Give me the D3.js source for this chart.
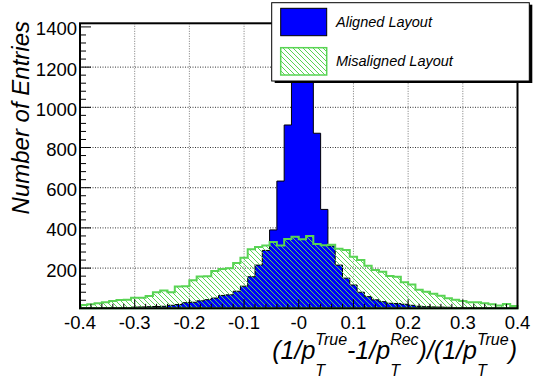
<!DOCTYPE html>
<html lang="en">
<head>
<meta charset="utf-8">
<title>pT resolution</title>
<script src="https://cdnjs.cloudflare.com/ajax/libs/d3/7.8.5/d3.min.js"></script>
<style>
    body
    {
        margin: 0;
        background-color: white;
    }
    svg
    {
        display: block;
        font-family: "Liberation Sans", Arial, Helvetica, sans-serif;
    }
</style>
</head>
<body>
<div id="chart_div"></div>
<script>
"use strict";
// 60 bins from -0.4 to 0.4
var binLow = -0.4;
var binHigh = 0.4;
var aligned = [1, 2, 1, 3, 3, 4, 4, 6, 7, 8,
               9, 10, 15, 19, 28, 30, 37, 43, 51, 64,
               67, 85, 110, 157, 215, 288, 390, 633, 912, 1210,
               1350, 1260, 871, 492, 310, 215, 150, 116, 80, 58,
               42, 33, 25, 24, 20, 15, 10, 8, 7, 6,
               5, 4, 3, 3, 2, 2, 1, 1, 1, 0];
var misaligned = [16, 20, 25, 30, 36, 41, 42, 53, 52, 61,
                  80, 88, 80, 108, 110, 140, 158, 160, 186, 196,
                  199, 226, 252, 294, 305, 312, 330, 312, 345, 356,
                  343, 360, 320, 314, 316, 296, 290, 257, 240, 212,
                  191, 182, 161, 157, 130, 118, 92, 82, 73, 63,
                  50, 42, 36, 30, 30, 25, 20, 14, 22, 12];
var seriesNames = ["Aligned Layout", "Misaligned Layout"];
var xTicks = [-0.4, -0.3, -0.2, -0.1, 0, 0.1, 0.2, 0.3, 0.4];
var xTickLabels = ["-0.4", "-0.3", "-0.2", "-0.1", "-0", "0.1", "0.2", "0.3", "0.4"];
var yTicks = [200, 400, 600, 800, 1000, 1200, 1400];
var yMax = 1418;

var svg_width = 534;
var svg_height = 378;
var frameL = 80, frameR = 517.5, frameT = 23.3, frameB = 308.3;
var green = "#59d454";

var svg = d3.select("#chart_div")
    .append("svg")
    .attr("width", svg_width)
    .attr("height", svg_height);

var xscale = d3.scaleLinear().domain([binLow, binHigh]).range([frameL, frameR]);
var yscale = d3.scaleLinear().domain([0, yMax]).range([frameB, frameT]);

// hatch pattern (ROOT style 3005-like)
var defs = svg.append("defs");
var pat = defs.append("pattern")
    .attr("id", "hatch")
    .attr("patternUnits", "userSpaceOnUse")
    .attr("width", 5)
    .attr("height", 5);
pat.append("path")
    .attr("d", "M0,0L5,5M-1,4L1,6M4,-1L6,1")
    .attr("stroke", green)
    .attr("stroke-width", 1)
    .attr("fill", "none");

// grid
svg.append("g").selectAll("line")
    .data(yTicks.slice(0, -1))
    .enter().append("line")
    .attr("x1", frameL).attr("x2", frameR)
    .attr("y1", function(d) { return yscale(d); })
    .attr("y2", function(d) { return yscale(d); })
    .attr("stroke", "#333")
    .attr("stroke-dasharray", "1,1.5");
svg.append("g").selectAll("line")
    .data(xTicks.slice(1, -1))
    .enter().append("line")
    .attr("y1", frameT).attr("y2", frameB)
    .attr("x1", function(d) { return xscale(d); })
    .attr("x2", function(d) { return xscale(d); })
    .attr("stroke", "#777")
    .attr("stroke-dasharray", "1,1.5");

function histPath(vals)
{
    var w = (binHigh - binLow) / vals.length;
    var p = "M" + xscale(binLow) + "," + yscale(0);
    vals.forEach(function(v, i)
    {
        p += "L" + xscale(binLow + i * w) + "," + yscale(v);
        p += "L" + xscale(binLow + (i + 1) * w) + "," + yscale(v);
    });
    p += "L" + xscale(binHigh) + "," + yscale(0) + "Z";
    return p;
}

svg.append("path")
    .attr("d", histPath(aligned))
    .attr("fill", "#0000ff")
    .attr("stroke", "black")
    .attr("stroke-width", 1);
svg.append("path")
    .attr("d", histPath(misaligned))
    .attr("fill", "url(#hatch)")
    .attr("stroke", green)
    .attr("stroke-width", 2);

// frame
svg.append("rect")
    .attr("x", frameL).attr("y", frameT)
    .attr("width", frameR - frameL).attr("height", frameB - frameT)
    .attr("fill", "none")
    .attr("stroke", "black")
    .attr("stroke-width", 2);

// y ticks
var yMinor = d3.range(0, 1401, 40);
svg.append("g").selectAll("line")
    .data(yMinor)
    .enter().append("line")
    .attr("x1", frameL)
    .attr("x2", function(d) { return frameL + (d % 200 === 0 ? 11 : 6); })
    .attr("y1", function(d) { return yscale(d); })
    .attr("y2", function(d) { return yscale(d); })
    .attr("stroke", "black");
svg.append("g").selectAll("text")
    .data(yTicks)
    .enter().append("text")
    .attr("x", frameL - 3)
    .attr("y", function(d) { return yscale(d) + 8.5; })
    .attr("text-anchor", "end")
    .attr("font-size", "18.5px")
    .text(function(d) { return d; });

// x ticks
var xMinor = d3.range(0, 41).map(function(i) { return binLow + i * 0.02; });
svg.append("g").selectAll("line")
    .data(xMinor)
    .enter().append("line")
    .attr("x1", function(d) { return xscale(d); })
    .attr("x2", function(d) { return xscale(d); })
    .attr("y1", frameB)
    .attr("y2", function(d, i) { return frameB - (i % 5 === 0 ? 9 : 4.5); })
    .attr("stroke", "black");
svg.append("g").selectAll("text")
    .data(xTicks)
    .enter().append("text")
    .attr("x", function(d) { return xscale(d); })
    .attr("y", 328.5)
    .attr("text-anchor", "middle")
    .attr("font-size", "18.5px")
    .text(function(d, i) { return xTickLabels[i]; });

// y title
svg.append("text")
    .attr("transform", "translate(29,21) rotate(-90)")
    .attr("text-anchor", "end")
    .attr("font-size", "24px")
    .attr("font-style", "italic")
    .text("Number of Entries");

// x title, TLatex-like
var pieces = [
    {t: "(1/p"}, {sub: "T", sup: "True"},
    {t: "-1/p"}, {sub: "T", sup: "Rec"},
    {t: ")/(1/p"}, {sub: "T", sup: "True"},
    {t: ")"}
];
var xt = svg.append("g").attr("font-style", "italic");
var cx = 0;
pieces.forEach(function(p)
{
    if (p.t)
    {
        var el = xt.append("text").attr("x", cx).attr("y", 358.5)
            .attr("font-size", "25px").text(p.t);
        cx += el.node().getComputedTextLength();
    }
    else
    {
        var a = xt.append("text").attr("x", cx).attr("y", 345)
            .attr("font-size", "16px").text(p.sup);
        var b = xt.append("text").attr("x", cx).attr("y", 375.5)
            .attr("font-size", "16px").text(p.sub);
        cx += Math.max(a.node().getComputedTextLength(), b.node().getComputedTextLength());
    }
});
xt.attr("transform", "translate(" + (517 - cx) + ",0)");

// legend
var lg = svg.append("g");
lg.append("rect").attr("x", 274.7).attr("y", 4.7).attr("width", 257.6).attr("height", 78.3).attr("fill", "black");
lg.append("rect").attr("x", 271.7).attr("y", 2.7).attr("width", 257.6).attr("height", 78.3)
    .attr("fill", "white").attr("stroke", "black").attr("stroke-width", 1);
lg.append("rect").attr("x", 280.7).attr("y", 8.3).attr("width", 46).attr("height", 27.4)
    .attr("fill", "#0000ff").attr("stroke", "black");
lg.append("rect").attr("x", 280.7).attr("y", 47.7).attr("width", 46).attr("height", 27.3)
    .attr("fill", "url(#hatch)").attr("stroke", green).attr("stroke-width", 1.5);
lg.selectAll("text.leg")
    .data(seriesNames)
    .enter().append("text")
    .attr("class", "leg")
    .attr("x", 336)
    .attr("y", function(d, i) { return i === 0 ? 27 : 66; })
    .attr("font-size", "14.5px")
    .attr("font-style", "italic")
    .text(function(d) { return d; });
</script>
</body>
</html>
